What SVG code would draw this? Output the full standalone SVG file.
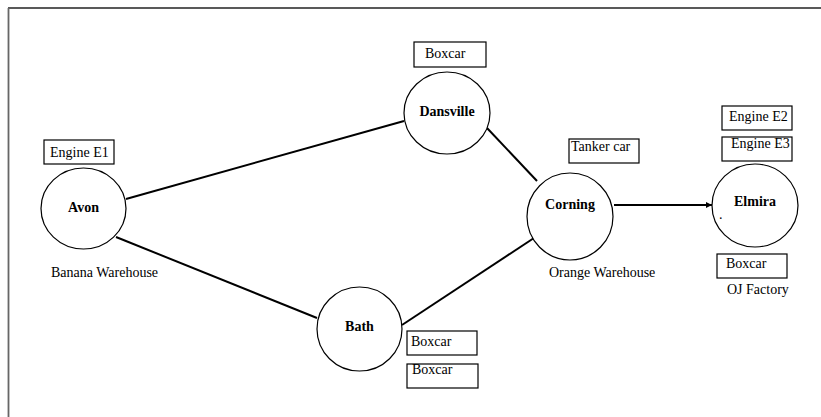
<svg xmlns="http://www.w3.org/2000/svg" width="821" height="417" viewBox="0 0 821 417">
  <style>
    .node { fill: #fff; stroke: #000; stroke-width: 1.2; }
    .edge { stroke: #000; stroke-width: 2; fill: none; }
    .box { fill: #fff; stroke: #000; stroke-width: 1.2; }
    text { font-family: 'Liberation Serif', 'Times New Roman', Times, 'DejaVu Serif', serif; fill: #000; }
    .name { font-weight: bold; font-size: 14px; text-anchor: middle; }
    .lbl { font-size: 14px; }
  </style>
  <defs>
    <marker id="tip" viewBox="0 0 6 6" refX="6" refY="3" markerWidth="3" markerHeight="3" orient="auto">
      <path d="M0,0 L6,3 L0,6 z" fill="#000"/>
    </marker>
  </defs>
  <rect width="821" height="417" fill="#fff"/>
  <!-- page frame: top rule and left rule only -->
  <line x1="8" y1="8" x2="821" y2="8" stroke="#222" stroke-width="1.5"/>
  <line x1="8.5" y1="8" x2="8.5" y2="417" stroke="#666" stroke-width="1.8"/>

  <g id="connectors">
    <line class="edge" x1="126" y1="199" x2="404" y2="121"/>
    <line class="edge" x1="116" y1="237" x2="317" y2="318"/>
    <line class="edge" x1="487" y1="128" x2="537" y2="181"/>
    <line class="edge" x1="402" y1="325" x2="537" y2="236"/>
    <line class="edge" x1="614" y1="205" x2="712" y2="205" marker-end="url(#tip)"/>
  </g>

  <g id="avon">
    <ellipse class="node" cx="83.5" cy="208.5" rx="42.5" ry="40.5"/>
    <text class="name" x="83.5" y="211.5">Avon</text>
    <rect class="box" x="44" y="140" width="70" height="24"/>
    <text class="lbl" x="50" y="157">Engine E1</text>
    <text class="lbl" x="51" y="277">Banana Warehouse</text>
  </g>

  <g id="dansville">
    <ellipse class="node" cx="447" cy="113" rx="43" ry="41"/>
    <text class="name" x="447" y="115.5">Dansville</text>
    <rect class="box" x="414" y="42" width="72" height="25"/>
    <text class="lbl" x="425" y="58">Boxcar</text>
  </g>

  <g id="bath">
    <ellipse class="node" cx="359.5" cy="329" rx="42.5" ry="42"/>
    <text class="name" x="359.5" y="330.5">Bath</text>
    <rect class="box" x="407" y="331" width="70" height="24"/>
    <text class="lbl" x="411" y="346">Boxcar</text>
    <rect class="box" x="407" y="364" width="71" height="24"/>
    <text class="lbl" x="412" y="374">Boxcar</text>
  </g>

  <g id="corning">
    <ellipse class="node" cx="570" cy="216.5" rx="43" ry="43.5"/>
    <text class="name" x="570" y="208.5">Corning</text>
    <rect class="box" x="569" y="139" width="70" height="24"/>
    <text class="lbl" x="571" y="151">Tanker car</text>
    <text class="lbl" x="549" y="277">Orange Warehouse</text>
  </g>

  <g id="elmira">
    <ellipse class="node" cx="755" cy="205.5" rx="43" ry="41.5"/>
    <text class="name" x="755" y="205.5">Elmira</text>
    <text class="lbl" x="719" y="219" font-size="8">.</text>
    <rect class="box" x="722" y="106" width="70" height="24"/>
    <text class="lbl" x="729" y="121">Engine E2</text>
    <rect class="box" x="722" y="137" width="70" height="24"/>
    <text class="lbl" x="731" y="148">Engine E3</text>
    <rect class="box" x="717" y="254" width="70" height="24"/>
    <text class="lbl" x="726" y="268">Boxcar</text>
    <text class="lbl" x="727" y="294">OJ Factory</text>
  </g>
</svg>
